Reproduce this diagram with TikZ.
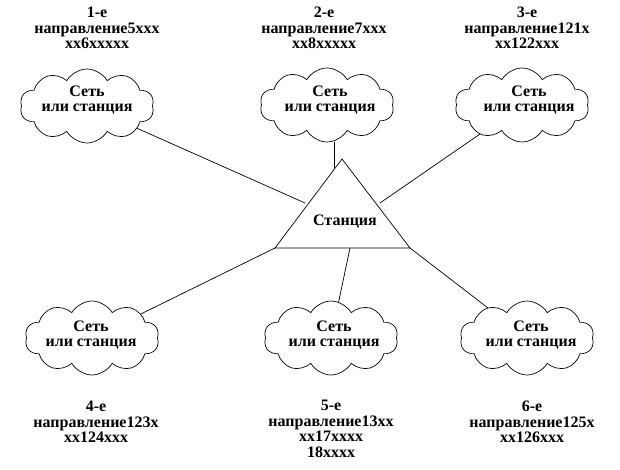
\documentclass[tikz,border=0pt]{standalone}
\usepackage{fontspec}
\setmainfont{Liberation Serif}
\usetikzlibrary{shapes.symbols,calc}
\begin{document}
\begin{tikzpicture}[x=1pt,y=-1pt,
  cl/.style={draw, cloud, cloud puffs=10, cloud puff arc=120, aspect=1.8, minimum width=134pt, minimum height=74pt, inner sep=0pt, line width=0.7pt},
  lbl/.style={align=center, font=\fontsize{16}{15.5}\selectfont\bfseries, inner sep=0pt},
  conn/.style={line width=0.7pt}]
\useasboundingbox[fill=white] (0,0) rectangle (620,470);
% top labels
\node[lbl] (d1) at (97,28) {1-е\\направление5xxx\\xx6xxxxx};
\node[lbl] (d2) at (324,28) {2-е\\направление7xxx\\xx8xxxxx};
\node[lbl] (d3) at (527,28) {3-е\\направление121x\\xx122xxx};
% top clouds
\node[cl] (c1) at (87,106) {};
\node[lbl] (t1) at (87,100) {Сеть\\или станция};
\node[cl] (c2) at (327,105) {};
\node[lbl] (t2) at (330,100) {Сеть\\или станция};
\node[cl] (c3) at (522,105) {};
\node[lbl] (t3) at (529,100) {Сеть\\или станция};
% triangle
\coordinate (tA) at (342,159);
\coordinate (tL) at (275,248);
\coordinate (tR) at (410,248);
\draw[conn] (tA) -- (tL) -- (tR) -- cycle;
\node[lbl] (st) at (345,222) {Станция};
% bottom clouds
\node[cl] (c4) at (92,338) {};
\node[lbl] (t4) at (91,335) {Сеть\\или станция};
\node[cl] (c5) at (331,338) {};
\node[lbl] (t5) at (334,335) {Сеть\\или станция};
\node[cl] (c6) at (527,338) {};
\node[lbl] (t6) at (531,335) {Сеть\\или станция};
% bottom labels
\node[lbl] (d4) at (96,422) {4-е\\направление123x\\xx124xxx};
\node[lbl] (d5) at (331,429) {5-е\\направление13xx\\xx17xxxx\\18xxxx};
\node[lbl] (d6) at (532,422) {6-е\\направление125x\\xx126xxx};
% connectors
\coordinate (e1) at (305,203);
\coordinate (e2) at (334,168);
\coordinate (e3) at (380,203);
\coordinate (e5) at (350,248);
\draw[conn] (c1) -- (e1);
\draw[conn] (c2.south -| e2) -- (e2);
\draw[conn] (c3) -- (e3);
\draw[conn] (tL) -- (c4);
\draw[conn] (e5) -- (c5);
\draw[conn] (tR) -- (c6);
\end{tikzpicture}
\end{document}
